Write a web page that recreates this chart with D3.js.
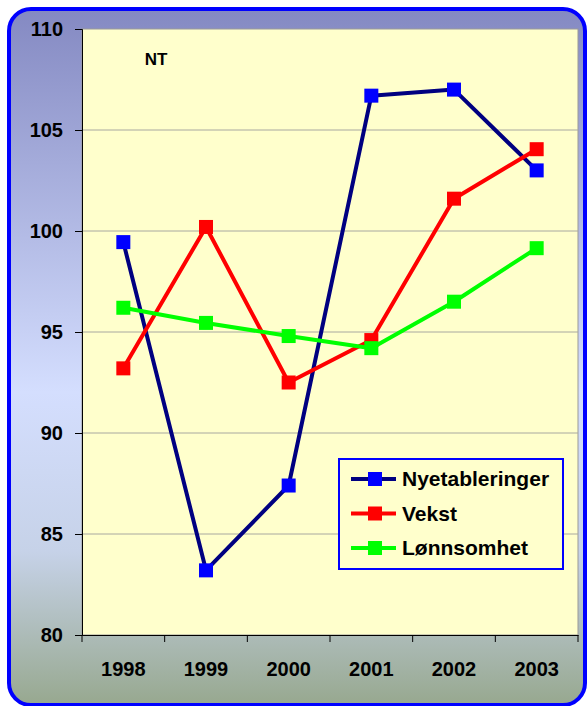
<!DOCTYPE html>
<html lang="no">
<head>
    <meta charset="UTF-8">
    <title>NT</title>
    <script src="https://cdn.jsdelivr.net/npm/d3@7"></script>
    <style>
        body { margin: 0; background: white; }
        text { font-family: Arial, "Liberation Sans", sans-serif; font-weight: bold; }
    </style>
</head>
<body>
<svg id="chart" width="587" height="706"></svg>
<script>
    // Data
    const years = ["1998", "1999", "2000", "2001", "2002", "2003"];
    const nyetableringer = [99.45, 83.2, 87.4, 106.7, 107.0, 103.0];
    const vekst = [93.2, 100.2, 92.5, 94.6, 101.6, 104.05];
    const lonnsomhet = [96.2, 95.45, 94.8, 94.2, 96.5, 99.15];
    const yTicks = [80, 85, 90, 95, 100, 105, 110];

    const series = [
        { name: "Nyetableringer", values: nyetableringer, line: "#000080", marker: "#0000ff" },
        { name: "Vekst", values: vekst, line: "#ff0000", marker: "#ff0000" },
        { name: "Lønnsomhet", values: lonnsomhet, line: "#00ff00", marker: "#00ff00" }
    ];

    const svg = d3.select("#chart");

    // Outer frame with gradient
    const defs = svg.append("defs");
    const grad = defs.append("linearGradient")
        .attr("id", "bg").attr("x1", 0).attr("y1", 0).attr("x2", 0).attr("y2", 1);
    grad.append("stop").attr("offset", "0%").attr("stop-color", "#8489c2");
    grad.append("stop").attr("offset", "55%").attr("stop-color", "#d4defe");
    grad.append("stop").attr("offset", "78%").attr("stop-color", "#c6d2e8");
    grad.append("stop").attr("offset", "100%").attr("stop-color", "#97a88f");

    svg.append("rect")
        .attr("x", 9).attr("y", 9)
        .attr("width", 576).attr("height", 696)
        .attr("rx", 22)
        .attr("fill", "url(#bg)")
        .attr("stroke", "#0000ff")
        .attr("stroke-width", 4);

    const margin = { left: 82, top: 29, right: 578, bottom: 635 };

    const x = d3.scaleBand()
        .domain(years)
        .range([margin.left, margin.right]);

    const y = d3.scaleLinear()
        .domain([80, 110])
        .range([margin.bottom, margin.top]);

    // Plot area
    svg.append("rect")
        .attr("x", margin.left).attr("y", margin.top)
        .attr("width", margin.right - margin.left)
        .attr("height", margin.bottom - margin.top)
        .attr("fill", "#ffffcc")
        .attr("stroke", "#999999")
        .attr("stroke-width", 1);

    // Gridlines
    svg.append("g")
        .selectAll("line")
        .data(yTicks.filter(d => d > 80 && d < 110))
        .enter()
        .append("line")
        .attr("x1", margin.left).attr("x2", margin.right)
        .attr("y1", d => y(d)).attr("y2", d => y(d))
        .attr("stroke", "#a8a8a0")
        .attr("stroke-width", 1);

    // Y axis
    const yAxis = svg.append("g")
        .attr("transform", `translate(${margin.left},0)`)
        .call(d3.axisLeft(y).tickValues(yTicks).tickSize(7).tickPadding(12));
    yAxis.select(".domain").attr("stroke", "#000");
    yAxis.selectAll("text").attr("font-size", 20).attr("fill", "#000")
        .style("font-family", "Arial, 'Liberation Sans', sans-serif");

    // X axis, ticks on band edges
    const xAxis = svg.append("g")
        .attr("transform", `translate(0,${margin.bottom})`)
        .call(d3.axisBottom(x).tickSize(0).tickPadding(27));
    xAxis.select(".domain").attr("stroke", "#000");
    xAxis.selectAll("text").attr("font-size", 20).attr("fill", "#000")
        .style("font-family", "Arial, 'Liberation Sans', sans-serif");
    svg.append("g")
        .selectAll("line")
        .data(years.map(d => x(d)).concat([x.range()[1]]))
        .enter()
        .append("line")
        .attr("x1", d => d).attr("x2", d => d)
        .attr("y1", margin.bottom).attr("y2", margin.bottom + 7)
        .attr("stroke", "#000");

    // NT label
    svg.append("text")
        .attr("x", 156).attr("y", 65)
        .attr("text-anchor", "middle")
        .attr("font-size", 17)
        .text("NT");

    // Lines and markers
    const cx = d => x(d) + x.bandwidth() / 2;
    const line = d3.line()
        .x((d, i) => cx(years[i]))
        .y(d => y(d));

    series.forEach(s => {
        svg.append("path")
            .datum(s.values)
            .attr("d", line)
            .attr("fill", "none")
            .attr("stroke", s.line)
            .attr("stroke-width", 4)
            .attr("stroke-linejoin", "round");
        svg.append("g")
            .selectAll("rect")
            .data(s.values)
            .enter()
            .append("rect")
            .attr("x", (d, i) => cx(years[i]) - 7)
            .attr("y", d => y(d) - 7)
            .attr("width", 14).attr("height", 14)
            .attr("fill", s.marker);
    });

    // Legend
    const legend = svg.append("g").attr("transform", "translate(339,459)");
    legend.append("rect")
        .attr("width", 224).attr("height", 110)
        .attr("fill", "#ffffcc")
        .attr("stroke", "#0000ff")
        .attr("stroke-width", 2);
    series.forEach((s, i) => {
        const ly = 20 + i * 34.5;
        legend.append("line")
            .attr("x1", 12).attr("x2", 57)
            .attr("y1", ly).attr("y2", ly)
            .attr("stroke", s.line).attr("stroke-width", 4);
        legend.append("rect")
            .attr("x", 29).attr("y", ly - 7)
            .attr("width", 14).attr("height", 14)
            .attr("fill", s.marker);
        legend.append("text")
            .attr("x", 63).attr("y", ly + 7)
            .attr("font-size", 21)
            .text(s.name);
    });
</script>
</body>
</html>
